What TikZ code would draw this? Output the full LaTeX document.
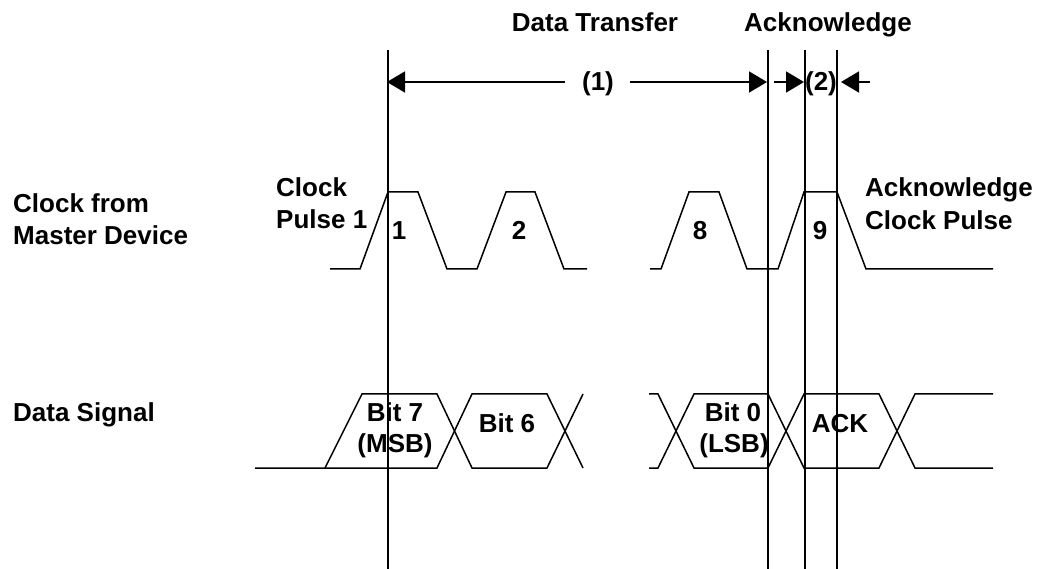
\documentclass[tikz,border=0pt]{standalone}
\usepackage{fontspec}
\setmainfont{Liberation Sans}
\usetikzlibrary{arrows.meta}
\begin{document}
\begin{tikzpicture}[x=1pt,y=-1pt,
  lbl/.style={font=\bfseries\fontsize{26}{30}\selectfont, inner sep=0pt, anchor=base},
  lblw/.style={lbl, anchor=base west},
  vline/.style={line width=2.2pt},
  sig/.style={line width=1.5pt, line join=miter},
  dim/.style={line width=1.8pt, -{Triangle[length=18pt,width=21pt]}},
]
\useasboundingbox (0,0) rectangle (1037,569);
% vertical reference lines
\coordinate (v1t) at (388,50); \coordinate (v1b) at (388,569);
\coordinate (v2t) at (768,50); \coordinate (v2b) at (768,569);
\coordinate (v3t) at (805,50); \coordinate (v3b) at (805,569);
\coordinate (v4t) at (837,50); \coordinate (v4b) at (837,569);
\draw[vline] (v1t) -- (v1b);
\draw[vline] (v2t) -- (v2b);
\draw[vline] (v3t) -- (v3b);
\draw[vline] (v4t) -- (v4b);
% dimension arrows
\coordinate (a1l) at (565,82); \coordinate (a1lt) at (387,82);
\coordinate (a1r) at (630,82); \coordinate (a1rt) at (767,82);
\coordinate (a2s) at (774,82); \coordinate (a2t) at (804,82);
\coordinate (a3s) at (870,82); \coordinate (a3t) at (841,82);
\draw[dim] (a1l) -- (a1lt);
\draw[dim] (a1r) -- (a1rt);
\draw[dim] (a2s) -- (a2t);
\draw[dim] (a3s) -- (a3t);
\node[lbl] (n1) at (598,91) {(1)};
\node[lbl] (n2) at (821,91) {(2)};
% top labels
\node[lbl] (dt) at (595,32) {Data Transfer};
\node[lbl] (ak) at (828,32) {Acknowledge};
% left labels
\node[lblw] (cf1) at (13,213) {Clock from};
\node[lblw] (cf2) at (13,245) {Master Device};
\node[lblw] (ds) at (13,421) {Data Signal};
\node[lblw] (cp1) at (276,197) {Clock};
\node[lblw] (cp2) at (276,229) {Pulse 1};
\node[lblw] (ac1) at (865,197) {Acknowledge};
\node[lblw] (ac2) at (865,230) {Clock Pulse};
% clock
\draw[sig] (330,269)--(360,269)--(388,192)--(418,192)--(447,269)--(477,269)--(506,192)--(535,192)--(564,269)--(587,269);
\draw[sig] (650,269)--(661,269)--(689,192)--(719,192)--(747,269)--(778,269)--(804,192)--(837,192)--(866,269)--(993,269);
\node[lbl] (c1) at (399,240) {1};
\node[lbl] (c2) at (519,240) {2};
\node[lbl] (c8) at (700,240) {8};
\node[lbl] (c9) at (820,240) {9};
% data
\draw[sig] (255,468)--(437,468)--(472,394)--(547,394)--(583,468);
\draw[sig] (325,468)--(362,394)--(437,394)--(472,468)--(547,468)--(583,394);
\draw[sig] (649,394)--(658,394)--(694,468)--(768,468)--(804,394)--(879,394)--(915,468)--(993,468);
\draw[sig] (649,468)--(658,468)--(694,394)--(768,394)--(804,468)--(879,468)--(915,394)--(993,394);
\node[lbl] (b7a) at (395,422) {Bit 7};
\node[lbl] (b7b) at (395,453) {(MSB)};
\node[lbl] (b6) at (507,433) {Bit 6};
\node[lbl] (b0a) at (733,422) {Bit 0};
\node[lbl] (b0b) at (734,453) {(LSB)};
\node[lbl] (ack) at (840,433) {ACK};
\end{tikzpicture}
\end{document}
